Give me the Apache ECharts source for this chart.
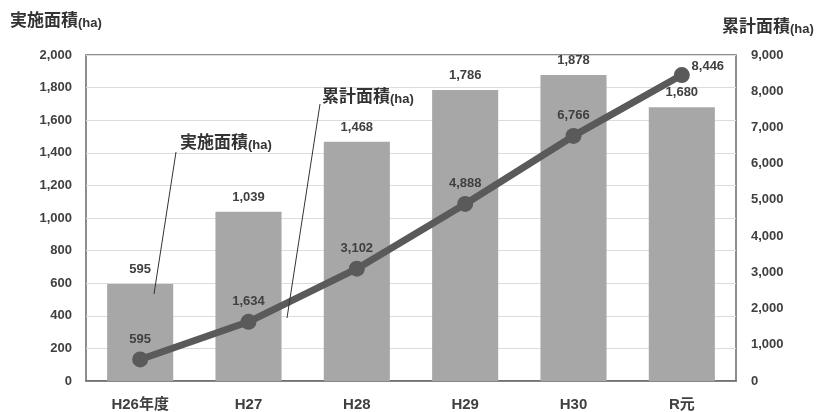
<!DOCTYPE html>
<html><head><meta charset="utf-8">
<script src="https://cdn.jsdelivr.net/npm/echarts@6/dist/echarts.min.js"></script>
<style>html,body{margin:0;padding:0;background:#fff}#c{width:820px;height:412px}</style>
</head><body><div id="c"></div>
<script>
const categories = ['H26年度', 'H27', 'H28', 'H29', 'H30', 'R元'];
const annualArea = [595, 1039, 1468, 1786, 1878, 1680];
const cumulativeArea = [595, 1634, 3102, 4888, 6766, 8446];
const leftTicks = { min: 0, max: 2000, interval: 200 };
const rightTicks = { min: 0, max: 9000, interval: 1000 };

const FONT = '"Liberation Sans", "Noto Sans CJK JP", sans-serif';
const TXT = '#404040';
const chart = echarts.init(document.getElementById('c'), null, { renderer: 'canvas' });
const fmt = v => v.toLocaleString('en-US');
const titleRich = {
  a: { fontSize: 17, fontWeight: 'bold', fill: '#333', fontFamily: '"Noto Sans CJK JP"', lineHeight: 20 },
  b: { fontSize: 13, fontWeight: 'bold', fill: '#333', fontFamily: FONT, lineHeight: 15, verticalAlign: 'bottom' }
};

chart.setOption({
  animation: false,
  textStyle: { fontFamily: FONT },
  grid: { left: 86, right: 84, top: 55, bottom: 29, show: true, borderColor: '#6a6a6a', borderWidth: 1.5, containLabel: false },
  xAxis: {
    type: 'category', data: categories,
    axisLine: { show: true, lineStyle: { color: '#6a6a6a', width: 1.5 } },
    axisTick: { show: false },
    axisLabel: { color: TXT, fontSize: 15, fontWeight: 'bold', margin: 16, fontFamily: FONT }
  },
  yAxis: [{
    type: 'value', min: leftTicks.min, max: leftTicks.max, interval: leftTicks.interval,
    axisLine: { show: false }, axisTick: { show: false },
    axisLabel: { color: TXT, fontSize: 13, fontWeight: 'bold', margin: 14, formatter: fmt },
    splitLine: { lineStyle: { color: '#dcdcdc', width: 1 } }
  }, {
    type: 'value', min: rightTicks.min, max: rightTicks.max, interval: rightTicks.interval,
    axisLine: { show: false }, axisTick: { show: false },
    axisLabel: { color: TXT, fontSize: 13, fontWeight: 'bold', margin: 15, formatter: fmt },
    splitLine: { show: false }
  }],
  series: [{
    type: 'bar', name: '実施面積', data: annualArea, yAxisIndex: 0,
    barWidth: '61%',
    itemStyle: { color: '#a7a7a7' },
    label: { show: true, position: 'top', distance: 8, color: TXT, fontSize: 13, fontWeight: 'bold', formatter: p => fmt(p.value) },
    z: 2
  }, {
    type: 'line', name: '累計面積', data: cumulativeArea, yAxisIndex: 1,
    lineStyle: { color: '#5a5a5a', width: 7 },
    itemStyle: { color: '#5a5a5a' },
    symbol: 'circle', symbolSize: 16,
    label: { show: true, position: 'top', distance: 6, color: TXT, fontSize: 13, fontWeight: 'bold', formatter: p => fmt(p.value) },
    labelLayout: p => p.dataIndex === cumulativeArea.length - 1 ? { dx: 26, dy: 12 } : {},
    z: 5
  }],
  graphic: [
    { type: 'text', left: 10, top: 11, style: { text: '{a|実施面積}{b|(ha)}', rich: titleRich } },
    { type: 'text', left: 722, top: 17, style: { text: '{a|累計面積}{b|(ha)}', rich: titleRich } },
    { type: 'text', left: 180, top: 133, z: 10, style: { text: '{a|実施面積}{b|(ha)}', rich: titleRich } },
    { type: 'text', left: 322, top: 87, z: 10, style: { text: '{a|累計面積}{b|(ha)}', rich: titleRich } },
    { type: 'line', z: 10, shape: { x1: 176, y1: 152, x2: 154, y2: 294 }, style: { stroke: '#333', lineWidth: 1 } },
    { type: 'line', z: 10, shape: { x1: 320, y1: 104, x2: 287, y2: 318 }, style: { stroke: '#333', lineWidth: 1 } }
  ]
});
</script></body></html>
